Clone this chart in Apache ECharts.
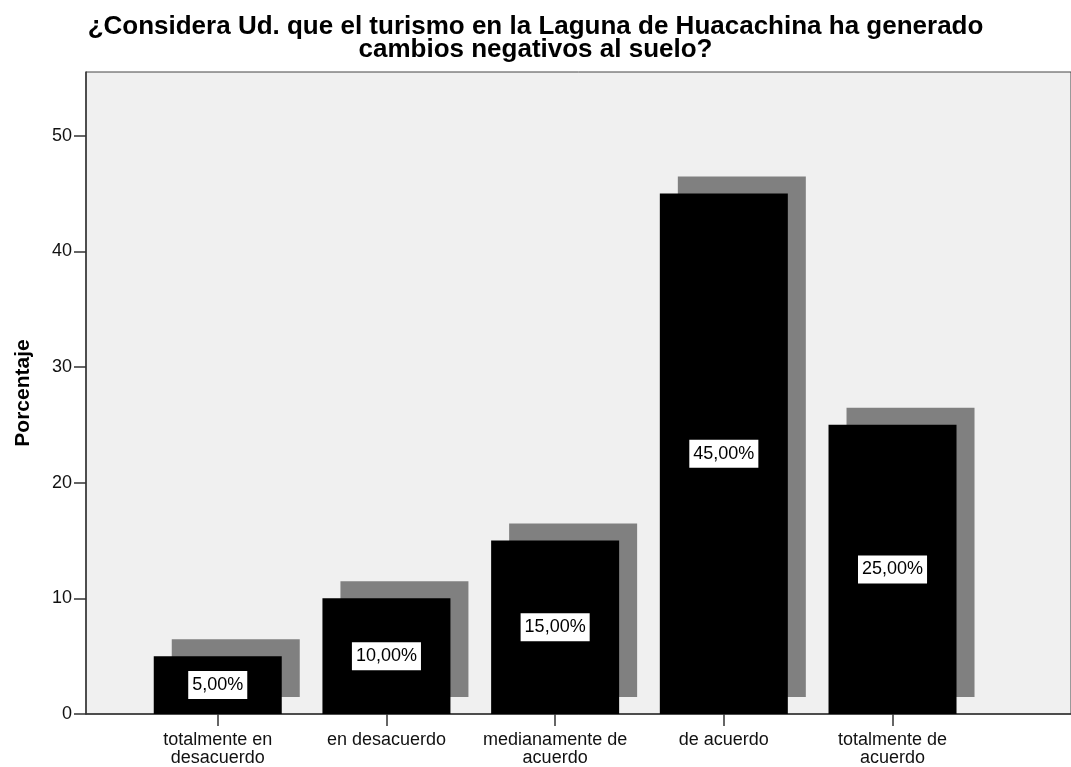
<!DOCTYPE html>
<html>
<head>
<meta charset="utf-8">
<script src="https://cdn.jsdelivr.net/npm/echarts@6/dist/echarts.min.js"></script>
<style>
  html, body { margin: 0; padding: 0; background: #fff; }
  #chart { width: 1071px; height: 767px; }
</style>
</head>
<body>
<div id="chart"></div>
<script>
// answers to the survey question
const categories = [
    'totalmente en\ndesacuerdo',
    'en desacuerdo',
    'medianamente de\nacuerdo',
    'de acuerdo',
    'totalmente de\nacuerdo'
];
const percentages = [5, 10, 15, 45, 25];
const yTicks = [0, 10, 20, 30, 40, 50];

const chart = echarts.init(document.getElementById('chart'));

const fmt = (v) => v.toFixed(2).replace('.', ',') + '%';
const axisColor = '#333';

chart.setOption({
    animation: false,
    textStyle: { fontFamily: 'Liberation Sans, Arial, sans-serif' },
    title: {
        text: '¿Considera Ud. que el turismo en la Laguna de Huacachina ha generado\ncambios negativos al suelo?',
        left: 'center',
        top: 10,
        textStyle: {
            fontSize: 26,
            fontWeight: 'bold',
            color: '#000',
            lineHeight: 23,
            align: 'center'
        }
    },
    grid: {
        left: 86,
        right: 0,
        top: 72,
        bottom: 53,
        show: true,
        backgroundColor: '#f0f0f0',
        borderColor: '#444',
        borderWidth: 1
    },
    xAxis: {
        type: 'value',
        min: -0.781,
        max: 5.058,
        splitLine: { show: false },
        axisLine: { show: true, onZero: false, lineStyle: { color: axisColor, width: 1.5 } },
        axisTick: {
            show: true,
            length: 12,
            customValues: [0, 1, 2, 3, 4],
            lineStyle: { color: axisColor, width: 1.5 }
        },
        axisLabel: {
            customValues: [0, 1, 2, 3, 4],
            formatter: (v) => categories[Math.round(v)] || '',
            color: '#111',
            fontSize: 18,
            lineHeight: 18,
            margin: 17
        }
    },
    yAxis: {
        type: 'value',
        min: 0,
        max: 55.5,
        name: 'Porcentaje',
        nameLocation: 'middle',
        nameGap: 52,
        nameTextStyle: { fontSize: 21, fontWeight: 'bold', color: '#000' },
        splitLine: { show: false },
        axisLine: { show: true, onZero: false, lineStyle: { color: axisColor, width: 1.5 } },
        axisTick: {
            show: true,
            length: 12,
            customValues: yTicks,
            lineStyle: { color: axisColor, width: 1.5 }
        },
        axisLabel: {
            color: '#111',
            fontSize: 18,
            margin: 14,
            customValues: yTicks
        }
    },
    series: [{
        type: 'bar',
        data: percentages.map((v, i) => [i, v]),
        barWidth: 128,
        itemStyle: {
            color: '#000',
            shadowColor: '#808080',
            shadowBlur: 0,
            shadowOffsetX: 18,
            shadowOffsetY: -17
        },
        label: {
            show: true,
            position: 'inside',
            formatter: (p) => fmt(p.value[1]),
            color: '#000',
            fontSize: 18,
            backgroundColor: '#fff',
            padding: [5, 4, 5, 4]
        }
    }]
});
</script>
</body>
</html>
